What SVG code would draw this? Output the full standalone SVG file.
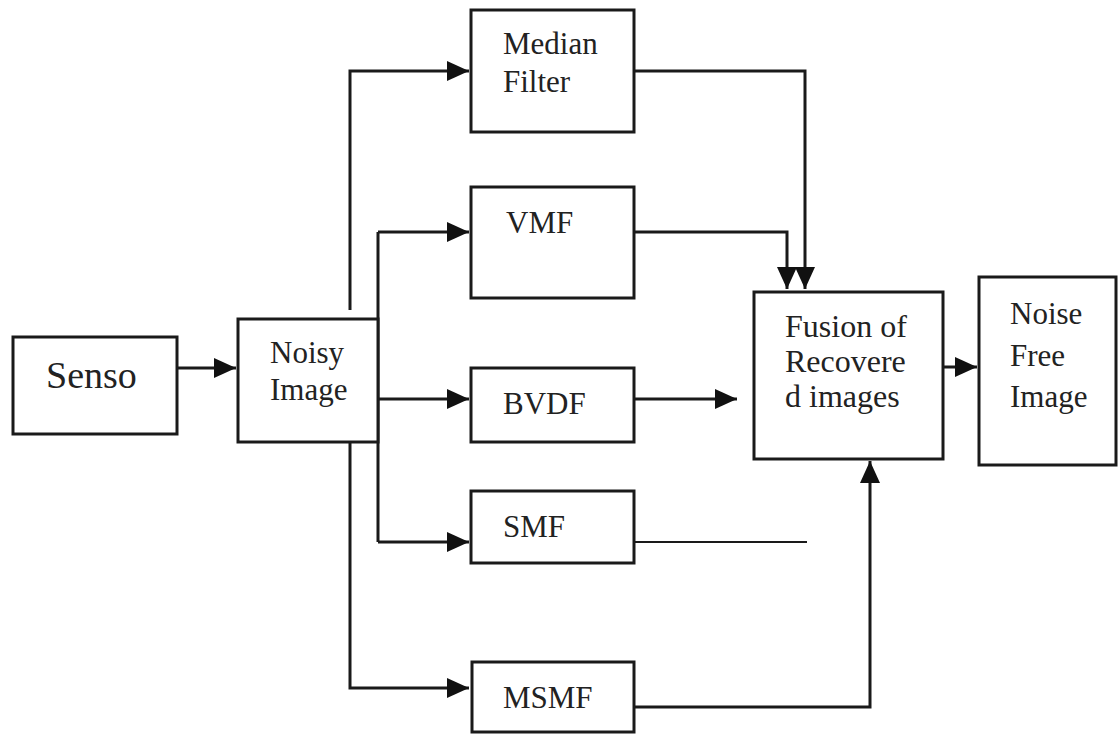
<svg xmlns="http://www.w3.org/2000/svg" width="1118" height="734" viewBox="0 0 1118 734">
<style>
.box{fill:#fff;stroke:#1a1a1a;stroke-width:3}
.ln{fill:none;stroke:#1a1a1a;stroke-width:3}
text{font-family:'Liberation Serif','Times New Roman',serif;font-size:31px;fill:#222}
</style>
<defs>
<marker id="ah" markerUnits="userSpaceOnUse" markerWidth="24" markerHeight="22" refX="22" refY="10" orient="auto">
<path d="M0,0 L22,10 L0,20 z" fill="#111"/>
</marker>
</defs>
<rect width="1118" height="734" fill="#fff"/>
<g id="connectors">
<path class="ln" d="M177,368 H236" marker-end="url(#ah)"/>
<path class="ln" d="M350,310 V71 H469" marker-end="url(#ah)"/>
<path class="ln" d="M378,232 V542"/>
<path class="ln" d="M378,232 H469" marker-end="url(#ah)"/>
<path class="ln" d="M378,399 H469" marker-end="url(#ah)"/>
<path class="ln" d="M378,542 H469" marker-end="url(#ah)"/>
<path class="ln" d="M350,442 V688 H469" marker-end="url(#ah)"/>
<path class="ln" d="M634,71 H805 V289" marker-end="url(#ah)"/>
<path class="ln" d="M634,232 H787 V289" marker-end="url(#ah)"/>
<path class="ln" d="M634,399 H737" marker-end="url(#ah)"/>
<path class="ln" d="M634,542 H807" style="stroke-width:2"/>
<path class="ln" d="M634,707 H870 V461" marker-end="url(#ah)"/>
<path class="ln" d="M943,367 H977" marker-end="url(#ah)"/>
</g>
<g id="senso">
<rect class="box" x="13" y="337" width="164" height="97"/>
<text x="46" y="388" style="font-size:38px">Senso</text>
</g>
<g id="noisy">
<rect class="box" x="238" y="319" width="140" height="123"/>
<text x="270" y="363">Noisy</text>
<text x="270" y="400">Image</text>
</g>
<g id="median">
<rect class="box" x="471" y="10" width="163" height="122"/>
<text x="503" y="54">Median</text>
<text x="503" y="92">Filter</text>
</g>
<g id="vmf">
<rect class="box" x="471" y="187" width="163" height="111"/>
<text x="506" y="233">VMF</text>
</g>
<g id="bvdf">
<rect class="box" x="471" y="368" width="163" height="74"/>
<text x="503" y="414">BVDF</text>
</g>
<g id="smf">
<rect class="box" x="471" y="491" width="163" height="72"/>
<text x="503" y="537">SMF</text>
</g>
<g id="msmf">
<rect class="box" x="472" y="662" width="162" height="70"/>
<text x="503" y="708">MSMF</text>
</g>
<g id="fusion">
<rect class="box" x="754" y="292" width="189" height="167"/>
<text x="785" y="337" style="font-size:32px">Fusion of</text>
<text x="785" y="372" style="font-size:32px">Recovere</text>
<text x="785" y="407" style="font-size:32px">d images</text>
</g>
<g id="noisefree">
<rect class="box" x="979" y="277" width="137" height="188"/>
<text x="1010" y="324">Noise</text>
<text x="1010" y="366">Free</text>
<text x="1010" y="407">Image</text>
</g>
</svg>
